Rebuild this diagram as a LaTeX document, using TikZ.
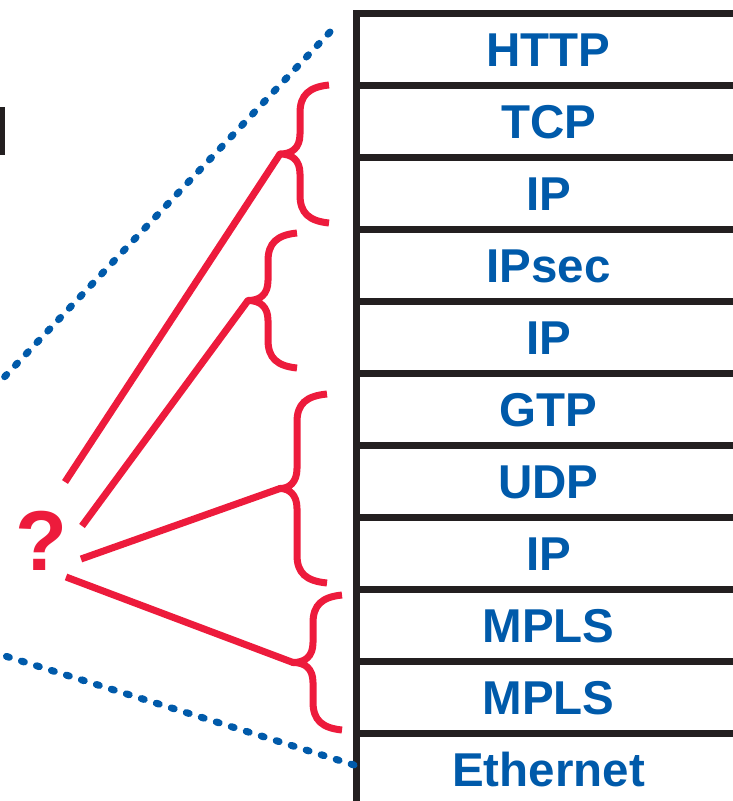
\documentclass[tikz,border=0pt]{standalone}
\usepackage{fontspec}
\setmainfont{Liberation Sans}
\definecolor{stackblue}{RGB}{0,90,170}
\definecolor{markred}{RGB}{237,27,60}
\definecolor{ink}{RGB}{35,31,32}

% curly brace opening to the left: tip x, top y, bottom y, spine x, cusp x, cusp name
\newcommand{\protobrace}[6]{%
  \coordinate (#6) at ({#5},{(#2+#3)/2});
  \draw[bracestroke]
    ({#1},{#2}) .. controls ({#4+9},{#2+2}) and ({#4},{#2+10}) .. ({#4},{#2+28})
    -- ({#4},{(#2+#3)/2-20}) .. controls ({#4},{(#2+#3)/2-6}) and ({#4-8},{(#2+#3)/2}) .. (#6)
    .. controls ({#4-8},{(#2+#3)/2}) and ({#4},{(#2+#3)/2+6}) .. ({#4},{(#2+#3)/2+20})
    -- ({#4},{#3-28}) .. controls ({#4},{#3-10}) and ({#4+9},{#3-2}) .. ({#1},{#3});
}

\begin{document}
\begin{tikzpicture}[x=1pt,y=-1pt,
  layer/.style={draw=ink,line width=7pt,minimum width=384pt,minimum height=72pt,
    inner sep=0pt,anchor=north west,text=stackblue,text height=33pt,text depth=0pt,
    font=\fontsize{47.5}{50}\selectfont\bfseries},
  bracestroke/.style={draw=markred,line width=7pt,line join=round},
  redline/.style={draw=markred,line width=7pt},
  dotline/.style={draw=stackblue,line width=7pt,line cap=round,
    dash pattern=on 3pt off 12.7pt}]
\useasboundingbox (0,0) rectangle (732,801);

% protocol stack
\node[layer] (http)  at (353,10)  {HTTP};
\node[layer] (tcp)   at (353,82)  {TCP};
\node[layer] (ipa)   at (353,154) {IP};
\node[layer] (ipsec) at (353,226) {IPsec};
\node[layer] (ipb)   at (353,298) {IP};
\node[layer] (gtp)   at (353,370) {GTP};
\node[layer] (udp)   at (353,442) {UDP};
\node[layer] (ipc)   at (353,514) {IP};
\node[layer] (mplsa) at (353,586) {MPLS};
\node[layer] (mplsb) at (353,658) {MPLS};
\node[layer] (eth)   at (353,730) {Ethernet};

% fragment of a dark letter at the left edge
\fill[ink] (0,107) rectangle (4.5,155);

% dotted zoom lines
\coordinate (dt) at (330,32);
\coordinate (dtfar) at (-6,388);
\coordinate (db) at (354,765);
\coordinate (dbfar) at (-6,652.5);
\draw[dotline] (dt) -- (dtfar);
\draw[dotline] (db) -- (dbfar);

% braces grouping the layers
\protobrace{329}{85}{223}{300}{280}{c1}
\protobrace{297}{233}{368}{268}{248}{c2}
\protobrace{327}{394}{583}{297}{280}{c3}
\protobrace{342}{595}{730}{313}{293}{c4}

% question mark and its lines
\node[font=\fontsize{85}{90}\selectfont\bfseries,text=markred,anchor=base,inner sep=0pt]
  (q) at (41,570) {?};
\coordinate (s1) at (65,482);
\coordinate (s2) at (82,526);
\coordinate (s3) at (81,559);
\coordinate (s4) at (66,577);
\draw[redline] (s1) -- (c1);
\draw[redline] (s2) -- (c2);
\draw[redline] (s3) -- (c3);
\draw[redline] (s4) -- (c4);
\end{tikzpicture}
\end{document}
